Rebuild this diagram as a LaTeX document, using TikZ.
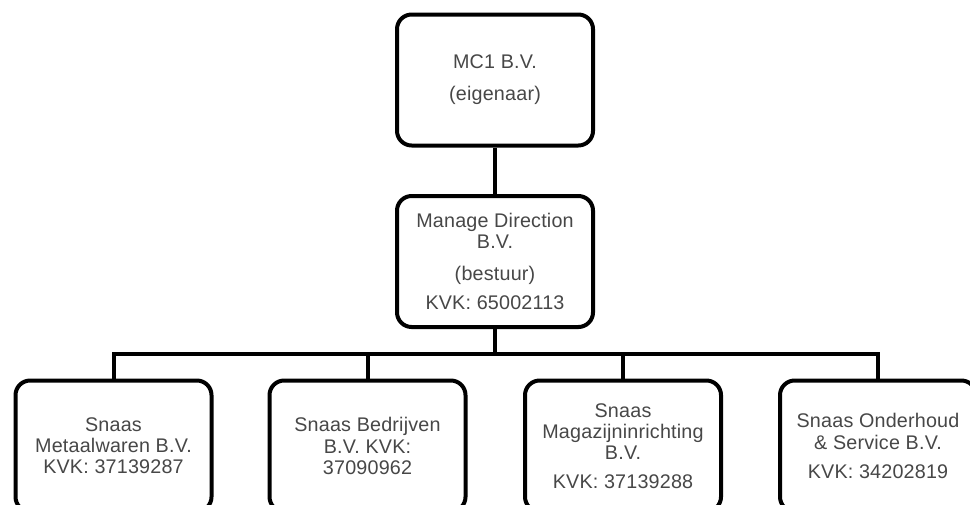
\documentclass[tikz,border=0pt]{standalone}
\usepackage{fontspec}
\setmainfont{Liberation Sans}[LetterSpace=1]
\begin{document}
\begin{tikzpicture}[x=0.75pt,y=-0.75pt,
  box/.style={draw=black, line width=3pt, rounded corners=11pt, fill=white,
    minimum width=147pt, minimum height=98.25pt, inner sep=0pt, align=center,
    text=black!72, font=\fontsize{14.8}{15.8}\selectfont},
  link/.style={draw=black, line width=3pt}]
\useasboundingbox (0,0) rectangle (970,504);
\clip (0,0) rectangle (970,504);
\node[box] (top) at (495,80) {MC1 B.V.\\[8pt](eigenaar)};
\node[box] (mid) at (495,261.5) {Manage Direction\\B.V.\\[8pt](bestuur)\\[6pt]KVK: 65002113};
\node[box] (b1) at (113.5,446) {Snaas\\Metaalwaren B.V.\\KVK: 37139287};
\node[box] (b2) at (367.5,446) {Snaas Bedrijven\\B.V. KVK:\\37090962};
\node[box] (b3) at (623,446) {Snaas\\Magazijninrichting\\B.V.\\[6pt]KVK: 37139288};
\node[box] (b4) at (878,446) {Snaas Onderhoud\\\& Service B.V.\\[6pt]KVK: 34202819};
\coordinate (bar) at (495,354);
\draw[link] (top) -- (mid);
\draw[link] (mid) -- (bar);
\draw[link] (b1.north) |- (bar) -| (b4.north);
\draw[link] (b2.north) -- (b2.north |- bar);
\draw[link] (b3.north) -- (b3.north |- bar);
\end{tikzpicture}
\end{document}
